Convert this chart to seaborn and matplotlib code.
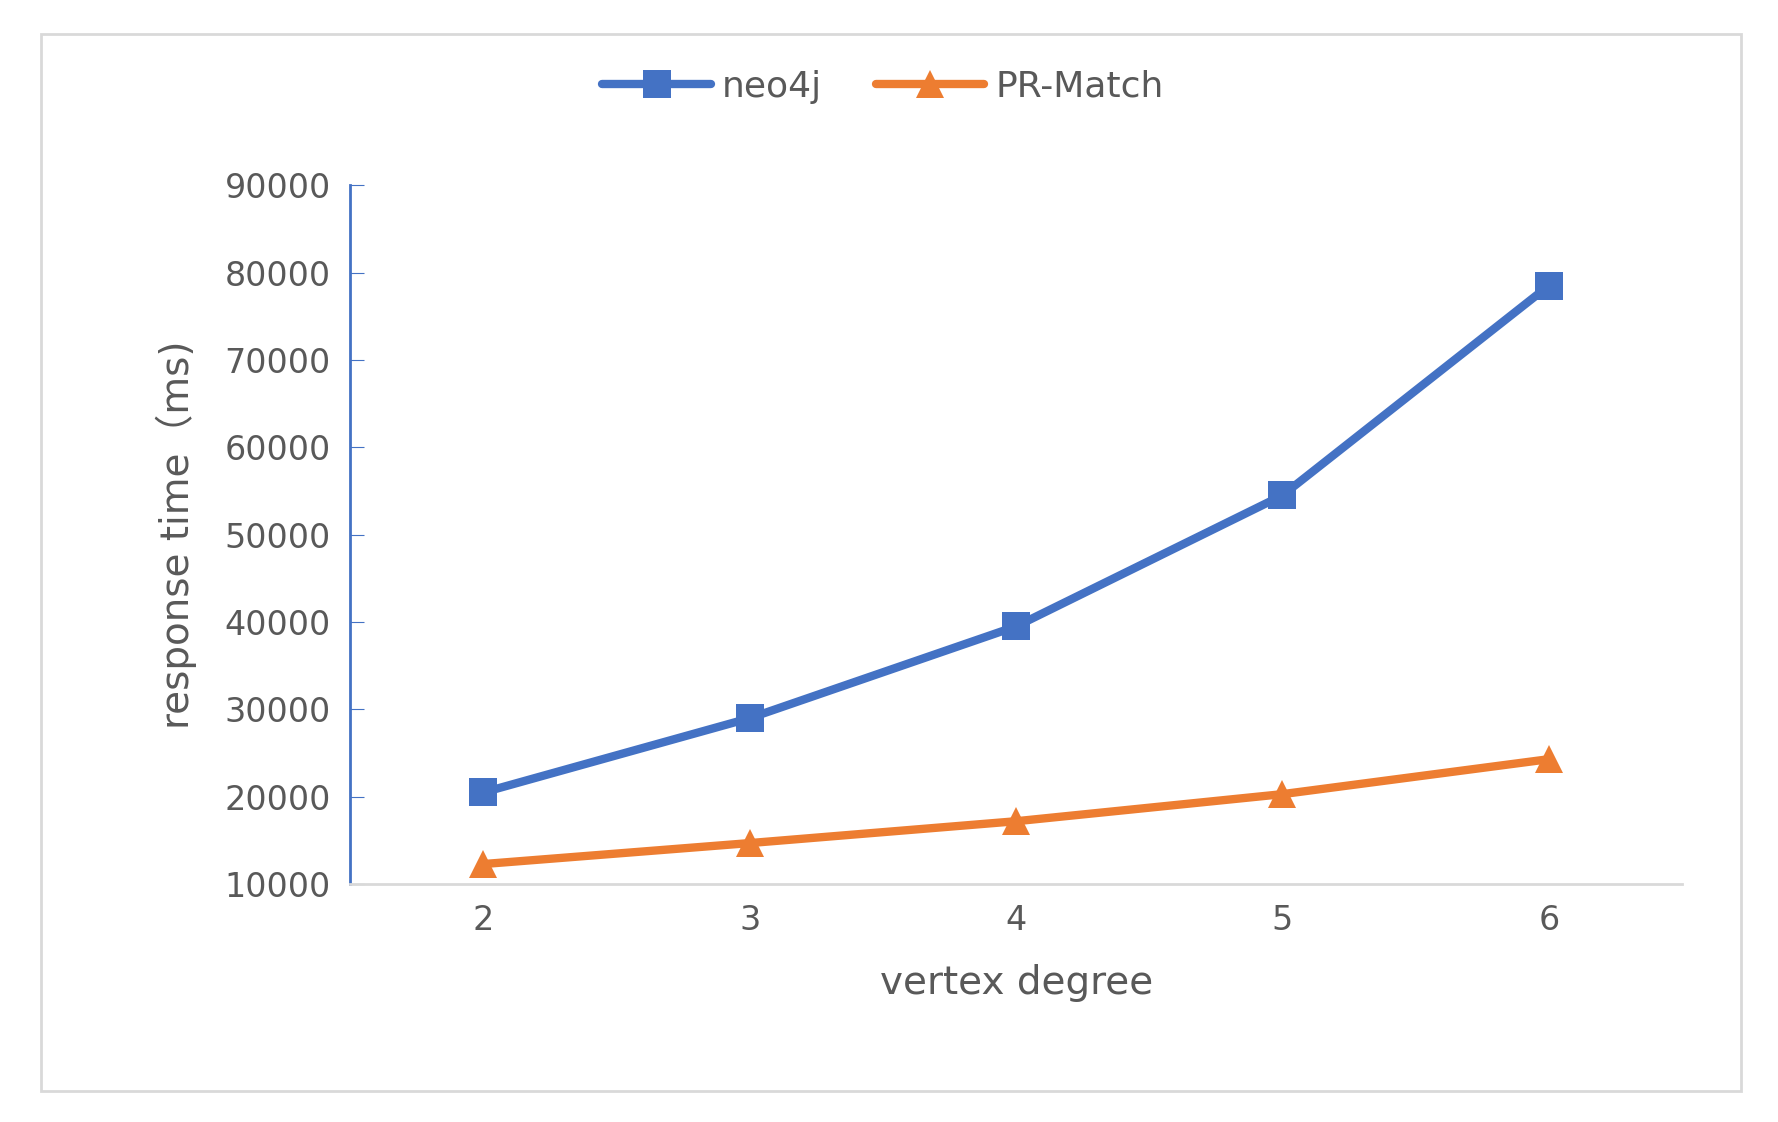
import matplotlib
matplotlib.use("Agg")
import matplotlib.pyplot as plt
import seaborn as sns
import pandas as pd
from matplotlib.patches import Rectangle

degrees = [2, 3, 4, 5, 6]
neo4j = [20500, 29000, 39500, 54500, 78500]
pr_match = [12300, 14700, 17200, 20300, 24300]
yticks = [10000, 20000, 30000, 40000, 50000, 60000, 70000, 80000, 90000]

df = pd.DataFrame({"degree": degrees * 2,
                   "time": neo4j + pr_match,
                   "method": ["neo4j"] * 5 + ["PR-Match"] * 5})

sns.set_style("white")
plt.rcParams['font.family'] = ['DejaVu Sans', 'Noto Sans CJK SC']
fig = plt.figure(figsize=(17.78, 11.22), dpi=100)
ax = fig.add_axes([0.197, 0.212, 0.749, 0.623])
fig.patches.append(Rectangle((0.023, 0.028), 0.956, 0.942, transform=fig.transFigure,
                             fill=False, edgecolor="#d9d9d9", linewidth=2))
palette = {"neo4j": "#4472C4", "PR-Match": "#ED7D31"}
sns.lineplot(data=df, x="degree", y="time", hue="method", style="method",
             markers={"neo4j": "s", "PR-Match": "^"}, dashes=False,
             palette=palette, linewidth=6, markersize=20, markeredgewidth=0, ax=ax)
ax.set_xlim(1.5, 6.5)
ax.set_ylim(10000, 90000)
ax.set_xticks(degrees)
ax.set_yticks(yticks)
ax.tick_params(axis="both", labelsize=24, colors="#595959", length=0, pad=14)
ax.tick_params(axis="y", left=True, length=10, color="#4472C4", direction="in")
for s in ["top", "right"]:
    ax.spines[s].set_visible(False)
ax.spines["left"].set_color("#4472C4")
ax.spines["left"].set_linewidth(2)
ax.spines["bottom"].set_color("#d9d9d9")
ax.spines["bottom"].set_linewidth(2)
ax.set_xlabel("vertex degree", fontsize=28, color="#595959", labelpad=20)
ax.set_ylabel("response time（ms)", fontsize=28, color="#595959", labelpad=20)
leg = ax.legend(loc="lower center", bbox_to_anchor=(0.4, 1.07), ncol=2, frameon=False,
                fontsize=26, handlelength=3, columnspacing=1.5, handletextpad=0.3)
for t in leg.get_texts():
    t.set_color("#595959")
fig.savefig("out.png", dpi=100)
